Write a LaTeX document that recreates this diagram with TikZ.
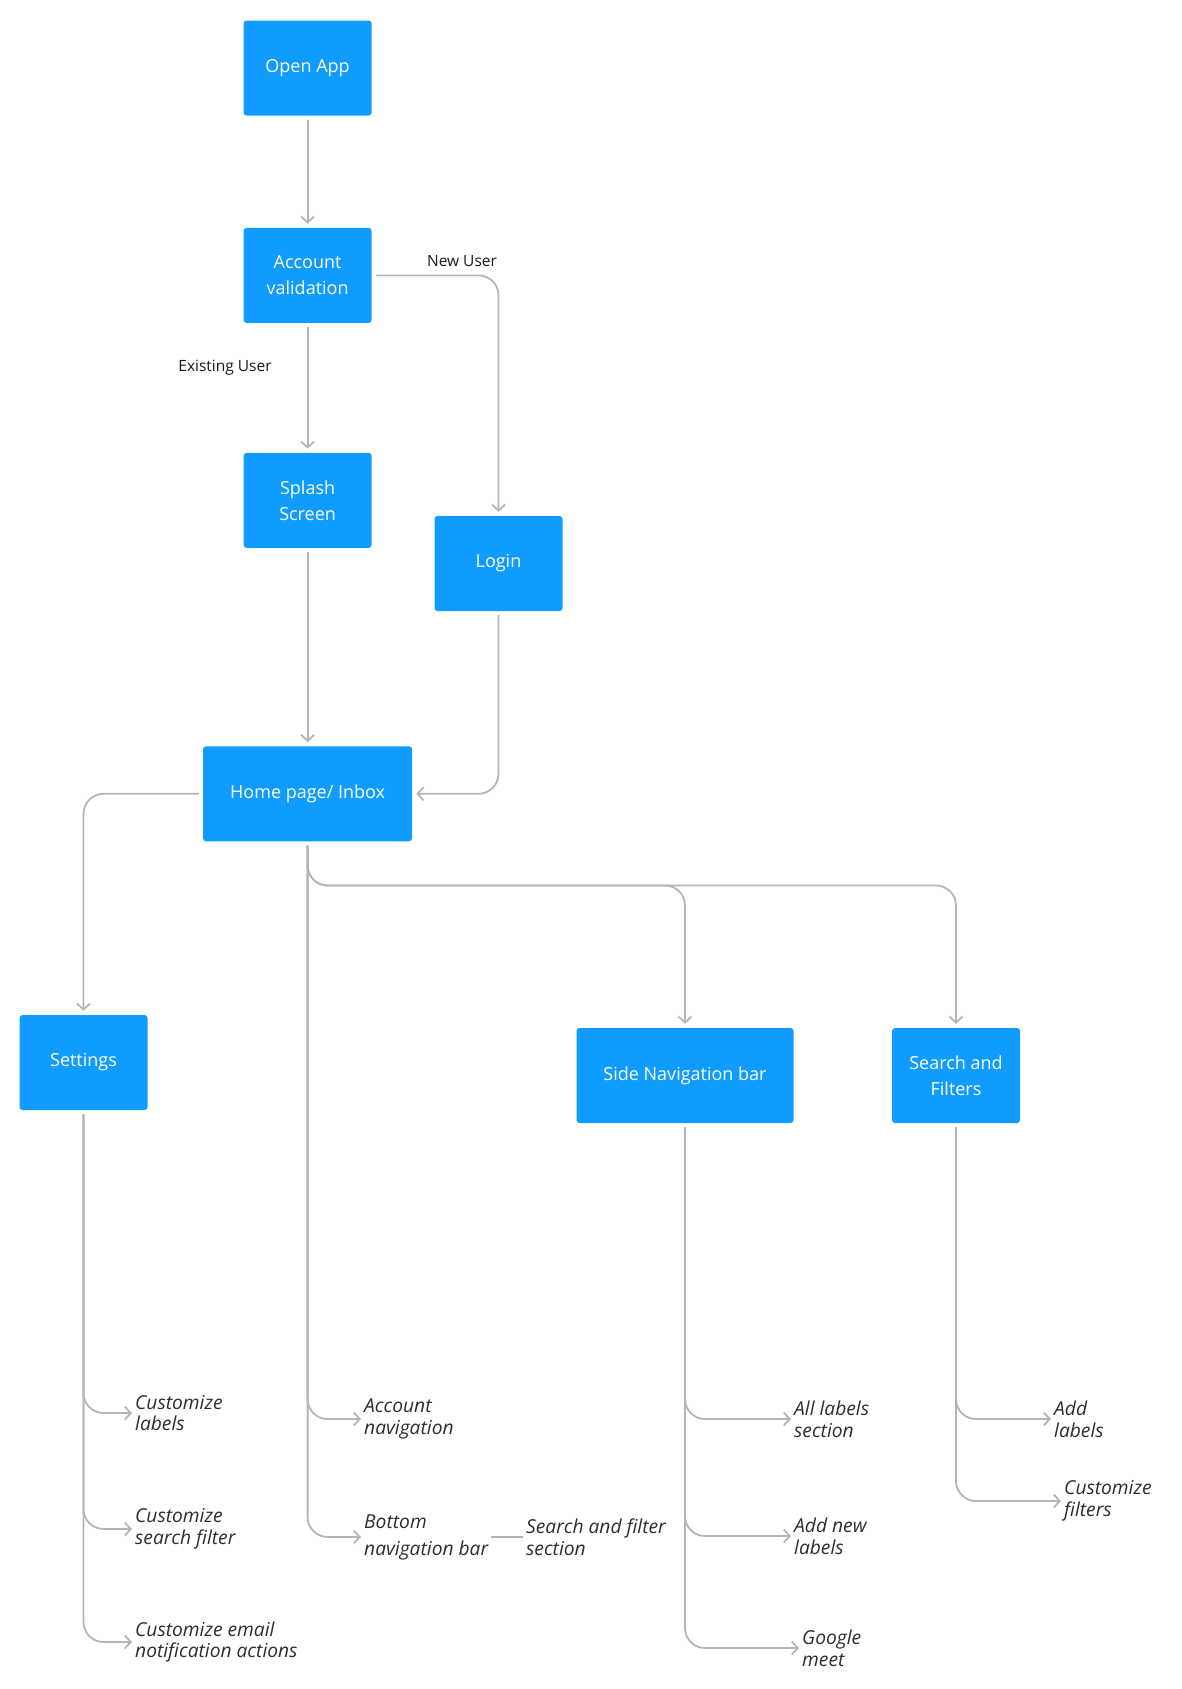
\documentclass[tikz,border=0pt]{standalone}
\usepackage{fontspec}
\setmainfont{Open Sans}
\usepackage{xcolor}
\usepackage{tikz}
\usetikzlibrary{arrows.meta, positioning}

\definecolor{boxblue}{RGB}{16,155,255}
\definecolor{linegray}{RGB}{181,181,181}
\definecolor{leafgray}{RGB}{45,45,45}
\definecolor{notegray}{RGB}{25,25,25}

\begin{document}
\begin{tikzpicture}[x=1pt, y=-1pt,
    box/.style={fill=boxblue, rounded corners=3pt, minimum width=128pt, minimum height=95pt, align=center, text=white, font=\fontsize{18}{26}\selectfont},
    leaf/.style={anchor=west, inner sep=0pt, align=left, text=leafgray, font=\fontsize{19.2}{21.7}\selectfont\itshape},
    note/.style={inner sep=0pt, text=notegray, font=\fontsize{15.5}{18}\selectfont},
    arrow/.style={draw=linegray, line width=1.8pt, rounded corners=20pt, -{Straight Barb[length=6pt, width=13pt, line width=1.8pt]}, shorten <=4pt, shorten >=4pt},
    toleaf/.style={arrow, shorten >=3pt},
    plain/.style={draw=linegray, line width=1.8pt}
]
    \useasboundingbox (0,0) rectangle (1181,1689);

    % Main flow
    \node[box] (open) at (307.6,68) {Open App};
    \node[box, below=112pt of open] (account) {Account\\validation};
    \node[box, below=129.6pt of account] (splash) {Splash\\Screen};
    \node[box] (login) at (498.5,563.5) {Login};
    \node[box, minimum width=209pt, below=198pt of splash] (home) {Home page/ Inbox};

    \node[box] (settings) at (83.5,1062.5) {Settings};
    \node[box, minimum width=217pt] (sidenav) at (685,1075.5) {Side Navigation bar};
    \node[box] (search) at (956,1075.5) {Search and\\Filters};

    \node[note] (newuser) at (462,261) {New User};
    \node[note] (existing) at (225,367.5) {Existing User};

    \draw[arrow] (open) -- (account);
    \draw[arrow] (account) -- (splash);
    \draw[arrow] (account.east) -| (login.north);
    \draw[arrow] (splash) -- (home);
    \draw[arrow] (login.south) |- (home.east);

    % Home branches
    \draw[arrow] (home.west) -| (settings.north);
    \draw[arrow] (home.south) -- ++(0,44) -| (sidenav.north);
    \draw[arrow] (home.south) -- ++(0,44) -| (search.north);

    % Leaves
    \node[leaf] (custlabels) at (135,1413) {Customize\\labels};
    \node[leaf] (custsearch) at (135,1529) {Customize\\search filter};
    \node[leaf] (custemail) at (135,1642) {Customize email\\notification actions};

    \node[leaf] (accnav) at (364,1419) {Account\\navigation};
    \node[leaf, font=\fontsize{19.2}{27}\selectfont\itshape] (bottomnav) at (364,1537) {Bottom\\navigation bar};
    \node[leaf] (searchsec) at (526,1537) {Search and filter\\section};

    \node[leaf] (alllabels) at (794,1419) {All labels\\section};
    \node[leaf] (addnew) at (794,1536) {Add new\\labels};
    \node[leaf] (meet) at (802,1648) {Google\\meet};

    \node[leaf] (addlabels) at (1054,1419) {Add\\labels};
    \node[leaf] (custfilters) at (1064,1501) {Customize\\filters};

    \draw[toleaf] (settings.south) |- (custlabels.west);
    \draw[toleaf] (settings.south) |- (custsearch.west);
    \draw[toleaf] (settings.south) |- (custemail.west);

    \draw[toleaf] (home.south) |- (accnav.west);
    \draw[toleaf] (home.south) |- (bottomnav.west);
    \draw[plain, shorten <=3pt, shorten >=3pt] (bottomnav.east) -- (searchsec.west);

    \draw[toleaf] (sidenav.south) |- (alllabels.west);
    \draw[toleaf] (sidenav.south) |- (addnew.west);
    \draw[toleaf] (sidenav.south) |- (meet.west);

    \draw[toleaf] (search.south) |- (addlabels.west);
    \draw[toleaf] (search.south) |- (custfilters.west);
\end{tikzpicture}
\end{document}
